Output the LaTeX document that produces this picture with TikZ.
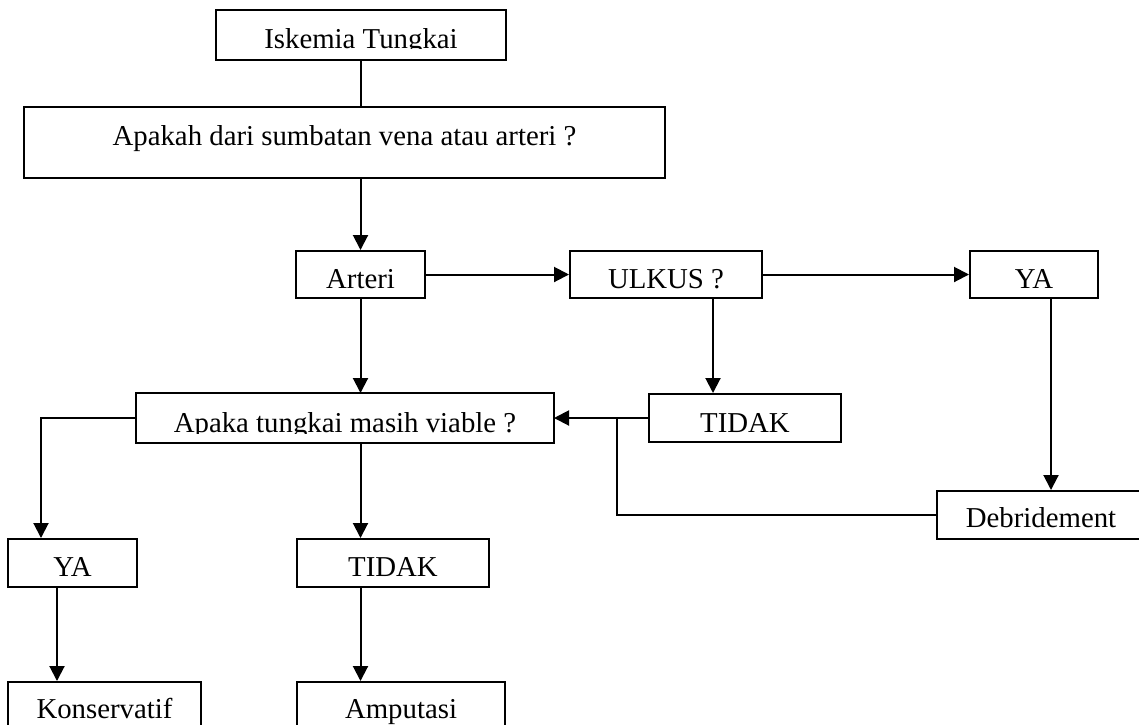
\documentclass[tikz,border=0pt]{standalone}
\usepackage{fontspec}
\setmainfont{Liberation Serif}
\usetikzlibrary{arrows.meta}

\begin{document}
\begin{tikzpicture}[
  x=1pt,y=-1pt,
  box/.style={draw, line width=2pt, inner sep=0pt, text height=37pt, text depth=11pt, font=\fontsize{28.8}{30}\selectfont},
  link/.style={line width=2pt},
  arr/.style={-{Triangle[length=15pt,width=15pt]}, line width=2pt}
]
\useasboundingbox (0,0) rectangle (1139,724);
% texts cut off at the baseline, frames drawn afterwards
\begin{scope}
\clip (200,0) rectangle (520,48.5);
\node[box, draw=none, minimum width=288pt] (iskemia) at (361,35) {Iskemia Tungkai};
\end{scope}
\draw[link] (iskemia.south west) rectangle (iskemia.north east);
\node[box, minimum width=641pt, text height=38pt, text depth=33pt] (apakah) at (344.5,142.5) {Apakah dari sumbatan vena atau arteri ?};
\node[box, minimum width=129pt, text depth=10pt] (arteri) at (360.5,274.5) {Arteri};
\node[box, minimum width=192pt, text depth=10pt] (ulkus) at (666,274.5) {ULKUS ?};
\node[box, minimum width=128pt, text depth=10pt] (yaT) at (1034,274.5) {YA};
\node[box, minimum width=192pt, text height=38pt, text depth=10pt] (tidakR) at (745,418) {TIDAK};
\begin{scope}
\clip (120,380) rectangle (570,433);
\node[box, draw=none, minimum width=416pt, text height=38pt, text depth=10pt] (viable) at (345,418) {Apaka tungkai masih viable ?};
\end{scope}
\draw[link] (viable.south west) rectangle (viable.north east);
\node[box, minimum width=208pt, text height=36pt, text depth=12pt] (debride) at (1041,515) {Debridement};
\node[box, minimum width=129pt] (yaL) at (72.5,563) {YA};
\node[box, minimum width=192pt] (tidakB) at (393,563) {TIDAK};
\node[box, minimum width=193pt, text height=36pt, text depth=12pt] (kons) at (104.5,706) {Konservatif};
\node[box, minimum width=208pt, text height=36pt, text depth=12pt] (amput) at (401,706) {Amputasi};
\coordinate (merge) at (617,418);

\draw[link] (iskemia.south) -- (iskemia.south |- apakah.north);
\draw[arr] (apakah.south -| arteri.north) -- (arteri.north);
\draw[arr] (arteri) -- (ulkus); \draw[arr] (ulkus) -- (yaT);
\draw[arr] (arteri.south) -- (arteri.south |- viable.north);
\draw[arr] ([xshift=47pt]ulkus.south) -- ([xshift=47pt]ulkus.south |- tidakR.north);
\draw[arr] ([xshift=17pt]yaT.south) -- ([xshift=17pt]yaT.south |- debride.north);
\draw[arr] (tidakR) -- (viable);
\draw[link] (debride.west) -| (merge);
\draw[arr] (viable.west) -| ([xshift=-31.5pt]yaL.north);
\draw[arr] (viable.south -| arteri) -- (tidakB.north -| arteri);
\draw[arr] ([xshift=-15.5pt]yaL.south) -- ([xshift=-15.5pt]yaL.south |- kons.north);
\draw[arr] (tidakB.south -| arteri) -- (amput.north -| arteri);
\end{tikzpicture}
\end{document}
